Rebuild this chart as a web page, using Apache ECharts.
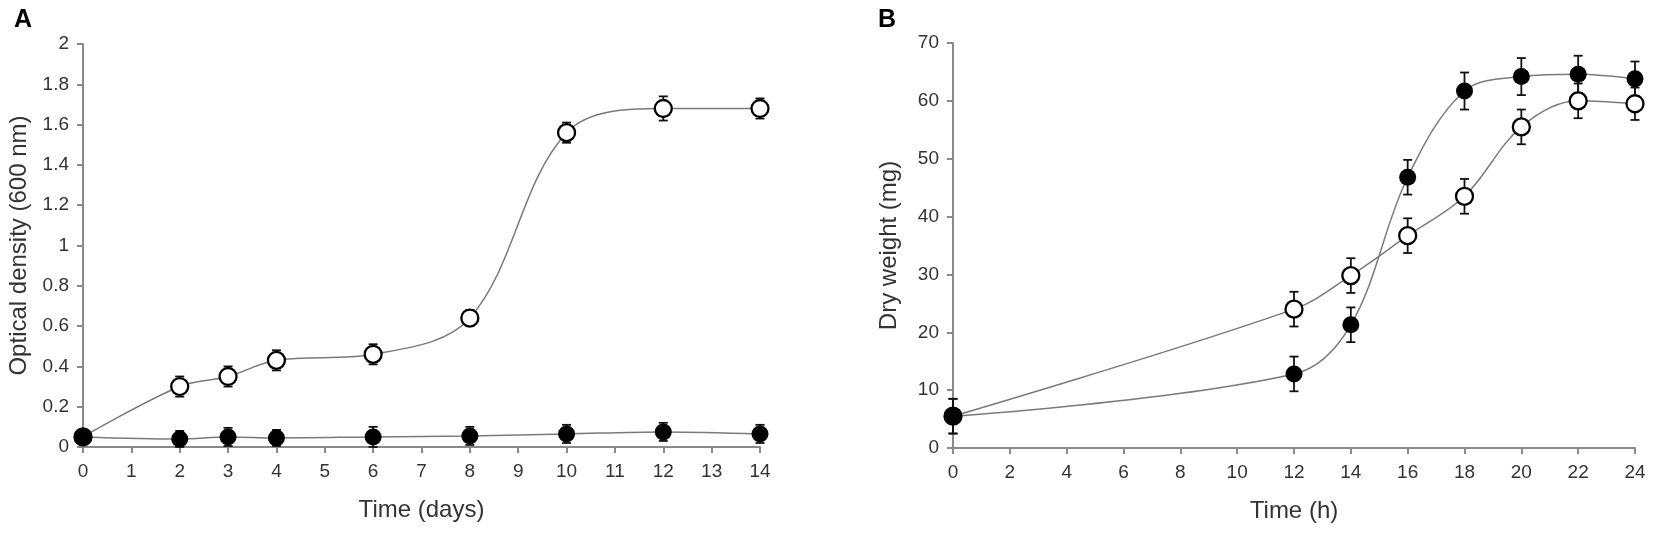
<!DOCTYPE html>
<html>
<head>
<meta charset="utf-8">
<title>Growth curves</title>
<script src="https://cdn.jsdelivr.net/npm/echarts@6/dist/echarts.min.js"></script>
<style>
html, body { margin: 0; padding: 0; background: #fff; }
#chart { width: 1654px; height: 533px; }
</style>
</head>
<body>
<div id="chart"></div>
<script>
// panel A: optical density over days
var daysA = [0, 2, 3, 4, 6, 8, 10, 12, 14];
var odOpen = [0.05, 0.30, 0.35, 0.43, 0.46, 0.64, 1.56, 1.68, 1.68];
var odOpenErr = [0.02, 0.05, 0.05, 0.05, 0.05, 0.04, 0.05, 0.06, 0.05];
var odFilled = [0.05, 0.04, 0.05, 0.045, 0.05, 0.055, 0.065, 0.075, 0.065];
var odFilledErr = [0.02, 0.04, 0.045, 0.04, 0.05, 0.045, 0.045, 0.045, 0.045];

// panel B: dry weight over hours
var hoursB = [0, 12, 14, 16, 18, 20, 22, 24];
var dwFilled = [5.5, 12.8, 21.3, 46.8, 61.7, 64.2, 64.6, 63.8];
var dwFilledErr = [3, 3, 3, 3, 3.2, 3.2, 3.2, 3];
var dwOpen = [5.5, 24, 29.8, 36.7, 43.5, 55.5, 60, 59.5];
var dwOpenErr = [3, 3, 3, 3, 3, 3, 3, 2.8];

var FONT = 'Liberation Sans, Arial, sans-serif';
var AXIS_GREY = '#8a8a8a';
var TEXT = '#333';

function pairs(xs, ys){
	var out = [];
	for(var i = 0; i < xs.length; i++){
		out.push([xs[i], ys[i]]);
	}
	return out;
}

function errData(xs, ys, es){
	var out = [];
	for(var i = 0; i < xs.length; i++){
		out.push([xs[i], Math.max(0, ys[i] - es[i]), ys[i] + es[i]]);
	}
	return out;
}

function errorBars(xs, ys, es, idx){
	return {
		type: 'custom',
		xAxisIndex: idx,
		yAxisIndex: idx,
		z: 2,
		silent: true,
		data: errData(xs, ys, es),
		encode: { x: 0, y: [1, 2] },
		renderItem: function(params, api){
			var x = api.value(0);
			var lo = api.coord([x, api.value(1)]);
			var hi = api.coord([x, api.value(2)]);
			var w = 4.5;
			var st = { stroke: '#111', lineWidth: 1.8 };
			return {
				type: 'group',
				children: [
					{ type: 'line', shape: { x1: lo[0], y1: lo[1], x2: hi[0], y2: hi[1] }, style: st },
					{ type: 'line', shape: { x1: hi[0] - w, y1: hi[1], x2: hi[0] + w, y2: hi[1] }, style: st },
					{ type: 'line', shape: { x1: lo[0] - w, y1: lo[1], x2: lo[0] + w, y2: lo[1] }, style: st }
				]
			};
		}
	};
}

function curve(xs, ys, idx){
	return {
		type: 'line',
		xAxisIndex: idx,
		yAxisIndex: idx,
		z: 1,
		smooth: 0.35,
		showSymbol: false,
		silent: true,
		lineStyle: { color: '#7a7a7a', width: 1.5 },
		data: pairs(xs, ys)
	};
}

function marks(xs, ys, idx, filled){
	return {
		type: 'scatter',
		xAxisIndex: idx,
		yAxisIndex: idx,
		z: filled ? 4 : 3,
		symbol: 'circle',
		symbolSize: 17,
		itemStyle: {
			color: filled ? '#000' : '#fff',
			borderColor: '#000',
			borderWidth: filled ? 0 : 2.3,
			opacity: 1
		},
		data: pairs(xs, ys)
	};
}

function xAxisCfg(idx, name, max, interval){
	return {
		type: 'value',
		gridIndex: idx,
		min: 0,
		max: max,
		interval: interval,
		name: name,
		nameLocation: 'middle',
		nameGap: 51,
		nameTextStyle: { color: TEXT, fontSize: 24, fontFamily: FONT },
		axisLine: { onZero: false, lineStyle: { color: AXIS_GREY, width: 2 } },
		axisTick: { length: 6, lineStyle: { color: AXIS_GREY, width: 2 } },
		axisLabel: { color: TEXT, fontSize: 19, fontFamily: FONT, margin: 15 },
		splitLine: { show: false }
	};
}

function yAxisCfg(idx, name, max, interval){
	return {
		type: 'value',
		gridIndex: idx,
		min: 0,
		max: max,
		interval: interval,
		name: name,
		nameLocation: 'middle',
		nameGap: 52,
		nameTextStyle: { color: TEXT, fontSize: 24, fontFamily: FONT },
		axisLine: { show: true, lineStyle: { color: AXIS_GREY, width: 2 } },
		axisTick: { show: true, length: 6, lineStyle: { color: AXIS_GREY, width: 2 } },
		axisLabel: { color: TEXT, fontSize: 19, fontFamily: FONT, margin: 14 },
		splitLine: { show: false }
	};
}

var option = {
	animation: false,
	backgroundColor: '#fff',
	title: [
		{ text: 'A', left: 9, top: 3, textStyle: { fontSize: 25, fontWeight: 'bold', color: '#000', fontFamily: FONT } },
		{ text: 'B', left: 873, top: 3, textStyle: { fontSize: 25, fontWeight: 'bold', color: '#000', fontFamily: FONT } }
	],
	grid: [
		{ left: 83, right: 894, top: 44, bottom: 86 },
		{ left: 953, right: 19, top: 43, bottom: 85 }
	],
	xAxis: [
		xAxisCfg(0, 'Time (days)', 14, 1),
		xAxisCfg(1, 'Time (h)', 24, 2)
	],
	yAxis: [
		yAxisCfg(0, 'Optical density (600 nm)', 2, 0.2),
		yAxisCfg(1, 'Dry weight (mg)', 70, 10)
	],
	series: [
		curve(daysA, odOpen, 0),
		curve(daysA, odFilled, 0),
		errorBars(daysA, odOpen, odOpenErr, 0),
		errorBars(daysA, odFilled, odFilledErr, 0),
		marks(daysA, odOpen, 0, false),
		marks(daysA, odFilled, 0, true),

		curve(hoursB, dwOpen, 1),
		curve(hoursB, dwFilled, 1),
		errorBars(hoursB, dwOpen, dwOpenErr, 1),
		errorBars(hoursB, dwFilled, dwFilledErr, 1),
		marks(hoursB, dwOpen, 1, false),
		marks(hoursB, dwFilled, 1, true)
	]
};

var myChart = echarts.init(document.getElementById('chart'));
myChart.setOption(option);
</script>
</body>
</html>
